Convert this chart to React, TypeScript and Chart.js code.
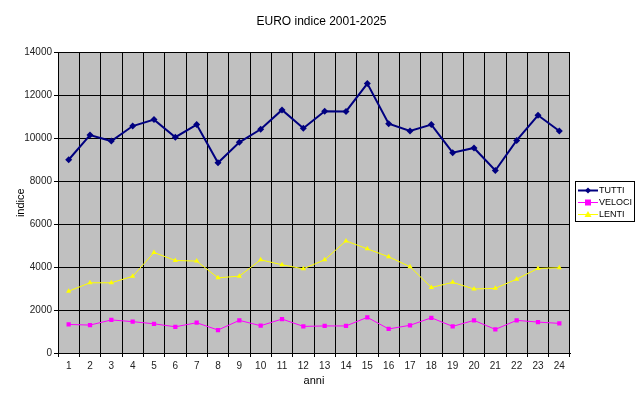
import React, { useEffect, useRef } from "react";
import { Chart, registerables } from "chart.js";

Chart.register(...registerables);

const TITLE = "EURO indice 2001-2025";
const categories = ["1","2","3","4","5","6","7","8","9","10","11","12","13","14","15","16","17","18","19","20","21","22","23","24"];
const tutti = [9000, 10150, 9870, 10570, 10870, 10050, 10640, 8860, 9810, 10420, 11320, 10470, 11260, 11250, 12550, 10680, 10340, 10640, 9330, 9550, 8500, 9900, 11070, 10340];
const veloci = [1330, 1300, 1540, 1460, 1360, 1220, 1410, 1070, 1520, 1270, 1580, 1240, 1260, 1260, 1660, 1120, 1290, 1640, 1240, 1520, 1100, 1520, 1440, 1380];
const lenti = [2880, 3270, 3270, 3570, 4680, 4310, 4280, 3500, 3580, 4340, 4110, 3920, 4340, 5220, 4850, 4480, 4020, 3050, 3290, 2980, 3010, 3440, 3940, 3970];
const seriesNames = ["TUTTI", "VELOCI", "LENTI"];
const seriesColors = ["#000080", "#FF00FF", "#FFFF00"];
const seriesPoints = ["rectRot", "rect", "triangle"];

const FONT = "'Liberation Sans', Arial, sans-serif";

const plotBg = {
  id: "plotBg",
  beforeDraw(chart: any) {
    const { ctx, chartArea: a } = chart;
    ctx.save();
    ctx.fillStyle = "#C0C0C0";
    ctx.fillRect(a.left, a.top, a.right - a.left, a.bottom - a.top);
    ctx.restore();
  },
};

const customLegend = {
  id: "customLegend",
  afterDraw(chart: any) {
    const { ctx } = chart;
    const x = 575, y = 181, w = 59, h = 40;
    ctx.save();
    ctx.fillStyle = "#FFFFFF";
    ctx.fillRect(x, y, w, h);
    ctx.strokeStyle = "#000000";
    ctx.lineWidth = 1;
    ctx.strokeRect(x + 0.5, y + 0.5, w, h);
    chart.data.datasets.forEach((ds: any, i: number) => {
      const cy = y + 9 + i * 12;
      const color = ds.borderColor;
      ctx.strokeStyle = color;
      ctx.lineWidth = ds.borderWidth;
      ctx.beginPath();
      ctx.moveTo(x + 3, cy + 0.5);
      ctx.lineTo(x + 23, cy + 0.5);
      ctx.stroke();
      ctx.fillStyle = color;
      const mx = x + 13, my = cy + 0.5;
      ctx.beginPath();
      if (ds.pointStyle === "rectRot") {
        ctx.moveTo(mx, my - 3); ctx.lineTo(mx + 3, my); ctx.lineTo(mx, my + 3); ctx.lineTo(mx - 3, my);
      } else if (ds.pointStyle === "rect") {
        ctx.rect(mx - 3, my - 3, 6, 6);
      } else {
        ctx.moveTo(mx, my - 3.5); ctx.lineTo(mx + 3.5, my + 2.5); ctx.lineTo(mx - 3.5, my + 2.5);
      }
      ctx.closePath();
      ctx.fill();
      ctx.fillStyle = "#000000";
      ctx.font = `9px ${FONT}`;
      ctx.textBaseline = "middle";
      ctx.textAlign = "left";
      ctx.fillText(ds.label, x + 24, cy + 1);
    });
    ctx.restore();
  },
};

export default function App() {
  const ref = useRef<HTMLCanvasElement | null>(null);
  useEffect(() => {
    if (!ref.current) return;
    const values = [tutti, veloci, lenti];
    const chart = new Chart(ref.current, {
      type: "line",
      data: {
        labels: categories,
        datasets: values.map((v, i) => ({
          label: seriesNames[i],
          data: v,
          borderColor: seriesColors[i],
          backgroundColor: seriesColors[i],
          borderWidth: i === 0 ? 2 : 1,
          pointStyle: seriesPoints[i] as any,
          pointRadius: i === 0 ? 3.5 : 3,
          pointBorderWidth: 0,
          tension: 0,
        })),
      },
      options: {
        responsive: false,
        animation: false,
        layout: { padding: 0 },
        plugins: {
          legend: { display: false },
          tooltip: { enabled: false },
          title: {
            display: true,
            text: TITLE,
            color: "#000",
            font: { family: FONT, size: 12, weight: "normal" },
            padding: { top: 14, bottom: 24 },
          },
        },
        scales: {
          x: {
            offset: true,
            grid: {
              offset: true,
              color: (c: any) => (c.index === 24 ? "#808080" : "#000000"),
              lineWidth: 1,
              tickLength: 4,
            },
            border: { color: "#000000" },
            ticks: { color: "#222", font: { family: FONT, size: 10 }, padding: 3, maxRotation: 0, autoSkip: false },
            title: {
              display: true,
              text: "anni",
              color: "#000",
              font: { family: FONT, size: 11 },
              padding: { top: 0, bottom: 13 },
            },
            afterFit: (s: any) => { s.height = 48; },
          },
          y: {
            min: 0,
            max: 14000,
            ticks: {
              stepSize: 2000,
              color: "#222",
              font: { family: FONT, size: 10 },
              padding: 2,
              callback: (v: any) => String(v),
            },
            grid: { color: "#000000", lineWidth: 1, tickLength: 4 },
            border: { color: "#000000" },
            title: {
              display: true,
              text: "indice",
              color: "#000",
              font: { family: FONT, size: 11 },
              padding: { top: 14, bottom: 0 },
            },
            afterFit: (s: any) => { s.width = 58; },
          },
          yLegendSpace: {
            position: "right",
            min: 0,
            max: 14000,
            display: true,
            grid: { display: false, drawOnChartArea: false },
            border: { display: false },
            ticks: { display: false },
            afterFit: (s: any) => { s.width = 73; },
          },
        },
      },
      plugins: [plotBg, customLegend],
    });
    return () => chart.destroy();
  }, []);
  return (
    <div style={{ position: "fixed", left: 0, top: 0, width: 643, height: 401, background: "#fff" }}>
      <canvas ref={ref} width={643} height={401} />
    </div>
  );
}
